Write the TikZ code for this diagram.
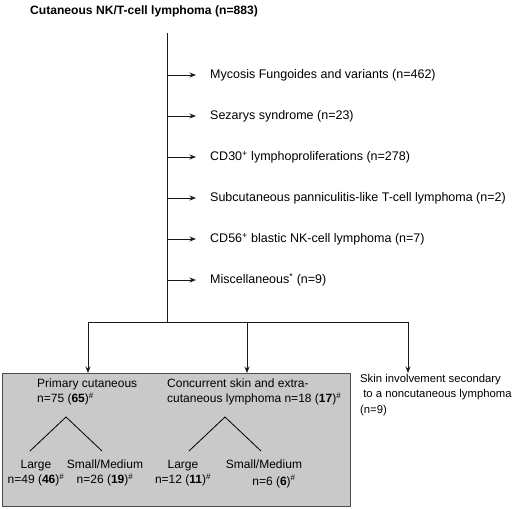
\documentclass[tikz,border=0pt]{standalone}
\usepackage{fontspec}
\setmainfont{Liberation Sans}
\usetikzlibrary{arrows.meta}
\begin{document}
\begin{tikzpicture}[x=1pt,y=-1pt,
  txt/.style={inner sep=0pt,anchor=west,font=\fontsize{12.5}{14}\selectfont},
  btxt/.style={inner sep=0pt,align=left,anchor=north west,font=\fontsize{12}{15}\selectfont},
  ctxt/.style={inner sep=0pt,align=center,font=\fontsize{12}{15}\selectfont},
  ln/.style={line width=1pt,draw=black!90},
  tri/.style={line width=0.8pt},
  arr/.style={ln,-{Stealth[length=6.5pt,width=5pt]}}]
\useasboundingbox (0,0) rectangle (520,509);
% title
\node[inner sep=0pt,anchor=west,font=\fontsize{12.1}{14}\selectfont\bfseries] (title) at (30,11) {Cutaneous NK/T-cell lymphoma (n=883)};
% trunk
\coordinate (top) at (167,33);
\coordinate (bar) at (167,322);
\draw[ln] (top) -- (bar);
% side categories
\foreach \i/\y/\t in {1/75/{Mycosis Fungoides and variants (n=462)},
  2/116/{Sezarys syndrome (n=23)},
  3/157/{CD30\textsuperscript{+} lymphoproliferations (n=278)},
  4/198/{Subcutaneous panniculitis-like T-cell lymphoma (n=2)},
  5/239/{CD56\textsuperscript{+} blastic NK-cell lymphoma (n=7)},
  6/280/{Miscellaneous\textsuperscript{*} (n=9)}}{
  \coordinate (j\i) at (167,\y);
  \node[txt] (c\i) at (210,\y) {\t};
  \draw[arr,shorten >=14pt] (j\i) -- (c\i.west);
}
% bottom bar
\coordinate (bl) at (88,322);
\coordinate (bm) at (247,322);
\coordinate (br) at (408,322);
\draw[ln] (bl) -- (br);
% grey box
\draw[line width=0.9pt,draw=black!70,fill=black!21] (2,373) rectangle (350,506);
\coordinate (tl) at (88,373);
\coordinate (tm) at (247,373);
\coordinate (tr) at (408,373);
\draw[arr] (bl) -- (tl);
\draw[arr] (bm) -- (tm);
\draw[arr] (br) -- (tr);
% primary cutaneous
\node[btxt] (pc) at (37,379) {Primary cutaneous\\n=75 (\textbf{65})\textsuperscript{\#}};
\coordinate (pa) at (66,417);
\coordinate (pl) at (30,451);
\coordinate (pr) at (102,451);
\draw[tri] (pl) -- (pa) -- (pr);
\node[ctxt,anchor=north] (pL) at (36,460) {Large\\n=49 (\textbf{46})\textsuperscript{\#}};
\node[ctxt,anchor=north] (pS) at (105,460) {Small/Medium\\n=26 (\textbf{19})\textsuperscript{\#}};
% concurrent
\node[btxt] (cc) at (167,379) {Concurrent skin and extra-\\cutaneous lymphoma n=18 (\textbf{17})\textsuperscript{\#}};
\coordinate (ca) at (225,417);
\coordinate (cl) at (189,451);
\coordinate (cr) at (261,451);
\draw[tri] (cl) -- (ca) -- (cr);
\node[ctxt,anchor=north] (cL) at (183,460) {Large\\n=12 (\textbf{11})\textsuperscript{\#}};
\node[ctxt,anchor=north] (cS) at (264,460) {Small/Medium};
\node[ctxt,anchor=north] (cS2) at (274,475) {n=6 (\textbf{6})\textsuperscript{\#}};
% secondary
\node[inner sep=0pt,align=left,anchor=north west,font=\fontsize{11.3}{15.5}\selectfont] (sec) at (360,374) {Skin involvement secondary\\\ to a noncutaneous lymphoma\\(n=9)};
\end{tikzpicture}
\end{document}
